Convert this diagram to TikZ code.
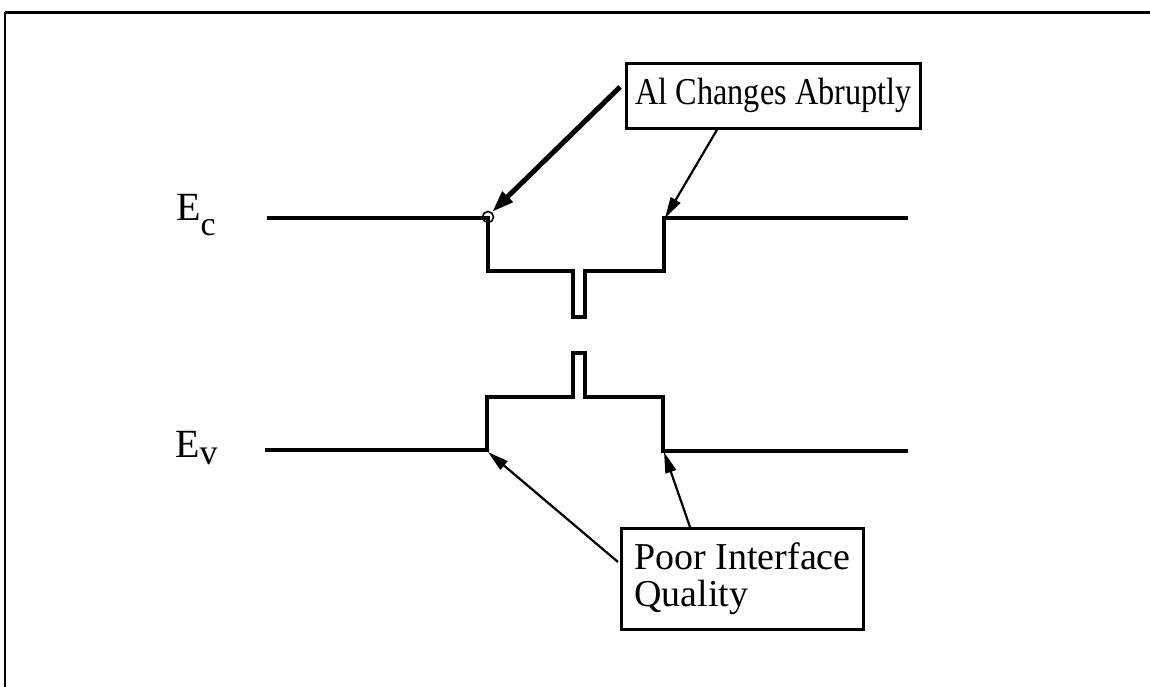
\documentclass[tikz,border=0pt]{standalone}
\usepackage{fontspec}
\setmainfont{Liberation Serif}
\usetikzlibrary{arrows.meta,calc}
\begin{document}
\begin{tikzpicture}[x=1pt,y=-1pt,
  level/.style={line width=3.4pt,line join=miter},
  lbl/.style={font=\fontsize{38}{37}\selectfont,draw,line width=2.8pt,inner xsep=14pt,anchor=north west},
  ptr/.style={line width=2.2pt,-{Triangle[length=21pt,width=11pt]}},
  thickptr/.style={line width=5pt,-{Triangle[length=22pt,width=14pt]}},
  elab/.style={font=\fontsize{40}{40}\selectfont,anchor=base west,inner sep=0pt}]
\useasboundingbox (0,0) rectangle (1150,687);
% frame
\draw[line width=3.4pt] (5,12.5) -- (1150,12.5);
\draw[line width=1.6pt] (5,12.5) -- (5,687);
% energy labels
\node[elab] (ec) at (176,220) {E\raisebox{-15pt}{\fontsize{34}{34}\selectfont c}};
\node[elab] (ev) at (175,457) {E\raisebox{-7pt}{\fontsize{36}{36}\selectfont v}};
% conduction band
\draw[level] (267,218) -- (488,218) -- (488,271) -- (573,271) -- (573,317) -- (585,317) -- (585,271) -- (664,271) -- (664,218) -- (908,218);
% valence band
\draw[level] (265,450) -- (487,450) -- (487,397) -- (573,397) -- (573,353) -- (585,353) -- (585,397) -- (663,397) -- (663,451) -- (908,451);
% circle marker
\draw[line width=1.6pt] (488,217) circle (5.5);
\coordinate (ci) at (492,212);
\coordinate (rc) at (665,218);
\coordinate (lv) at (488,452);
\coordinate (rv) at (664,452);
% boxes
\node[lbl,minimum height=65pt,inner xsep=9pt] (al) at (625,62) {\scalebox{0.85}[1]{Al Changes Abruptly}};
\node[lbl,minimum height=101pt,align=left,inner xsep=13pt] (pq) at (620,527) {Poor Interface\\Quality};
% arrows
\draw[thickptr] ($(al.north west)+(-5,25)$) -- (ci);
\draw[ptr] ($(al.south west)+(92,0)$) -- (rc);
\draw[ptr] ($(pq.north west)+(-2,35)$) -- (lv);
\draw[ptr] ($(pq.north west)+(70,0)$) -- (rv);
\end{tikzpicture}
\end{document}
